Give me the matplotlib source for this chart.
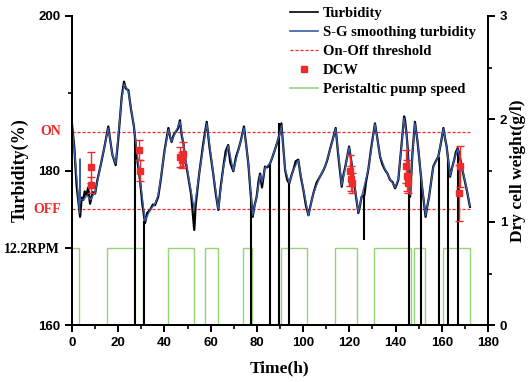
import matplotlib
matplotlib.use("Agg")
import matplotlib.pyplot as plt
from matplotlib.lines import Line2D
from matplotlib.ticker import MultipleLocator, FixedLocator
from matplotlib.transforms import blended_transform_factory


# =====================================================
# DATA
# =====================================================
turb_t = [0, 1, 2, 3.5, 4.2, 4.9, 5.5, 6.3, 7, 7.8, 9, 10, 11, 12.5, 14, 15.7,
          16.5, 17.5, 18.9, 20, 21.5, 22.5, 23.3, 24.4, 25.5, 26.8, 28, 29.4,
          30.5, 31.6, 32.5, 33.8, 35, 35.9, 37.3, 38.5, 40, 41.7, 42.5, 43.1,
          44, 44.9, 45.8, 46.7, 47.5, 48.2, 49, 50.3, 51.5, 52.9, 53.5, 55,
          56.8, 58.3, 59.5, 61.1, 62.2, 63.3, 64.3, 65.5, 66.5, 67.6, 68.5,
          69.8, 71, 72, 73, 74.4, 75.3, 76.3, 77.3, 78.2, 79, 79.9, 80.8, 81.4,
          82.2, 83.5, 84.5, 85.7, 86.8, 87.8, 88.8, 89.7, 90.6, 91.3, 92.2,
          93.1, 94, 95, 95.8, 96.8, 97.9, 99, 100.1, 101.2, 102.3, 103.3,
          104.4, 105.8, 107.3, 108.4, 109.5, 110.5, 111.6, 112.8, 114.1, 115.2,
          116.7, 117.5, 118.4, 119.9, 121, 122, 123.9, 124.5, 125.3, 126.5,
          127.2, 128.2, 129.5, 131.1, 132.2, 133.3, 134.3, 135.4, 136.5, 137.6,
          138.7, 139.8, 140.5, 141.2, 142.5, 143.7, 144.1, 144.8, 145.3, 146.3,
          147.3, 148.4, 149.6, 150.4, 151.3, 152.2, 153, 153.7, 154.5, 155.4,
          156.3, 157.4, 158.5, 159.6, 160.7, 161.4, 162.1, 162.9, 163.6, 164.5,
          165.4, 166.1, 166.9, 167.7, 168.6, 169.7, 170.8, 172.2]
turb_v = [186.0, 183.0, 178.0, 174.0, 176.5, 176.2, 177.3, 176.8, 177.8, 175.7,
          177.2, 177.0, 178.8, 180.8, 183.0, 185.7, 184.0, 182.0, 180.7, 184.0,
          189.5, 191.5, 190.6, 190.4, 188.0, 185.7, 182.0, 178.8, 175.5, 173.2,
          174.5, 174.9, 175.6, 175.5, 176.6, 179.0, 182.5, 185.5, 184.3, 183.7,
          184.6, 185.0, 185.4, 186.5, 184.5, 183.5, 181.5, 179.2, 177.0, 172.3,
          175.5, 179.5, 183.5, 186.3, 183.0, 179.6, 177.0, 174.9, 177.8, 180.5,
          182.5, 183.3, 181.0, 179.9, 181.8, 182.7, 183.8, 185.7, 183.5, 180.9,
          177.0, 174.0, 175.5, 176.6, 178.8, 179.6, 177.8, 180.5, 180.4, 180.9,
          181.8, 182.7, 183.6, 184.6, 186.1, 183.5, 180.1, 178.8, 178.3, 179.4,
          180.1, 181.2, 181.4, 179.2, 177.5, 175.5, 174.2, 175.6, 177.0, 178.4,
          179.2, 179.8, 180.5, 181.4, 182.7, 184.0, 185.5, 182.0, 177.9, 179.5,
          180.7, 183.1, 180.9, 178.5, 174.5, 175.3, 176.6, 176.8, 178.5, 180.1,
          183.0, 186.1, 184.0, 181.8, 180.8, 180.1, 179.6, 178.8, 178.5, 177.7,
          178.2, 178.8, 183.0, 187.0, 186.5, 184.6, 182.7, 176.6, 182.2, 186.3,
          183.5, 181.0, 178.3, 176.0, 174.0, 175.3, 176.6, 178.5, 180.5, 181.2,
          181.8, 183.5, 185.5, 184.2, 183.1, 181.0, 179.2, 180.4, 181.4, 182.4,
          182.9, 182.0, 180.5, 179.0, 177.5, 175.3]

sg_t = [0, 1.5, 3.3, 3.5, 3.6, 5, 6.5, 8, 10, 12.5, 15.7, 17.5, 18.9, 21.5, 22.6,
        24.4, 26.8, 29.4, 31.6, 33.8, 35.9, 37.3, 40, 41.7, 43.1, 44.9, 46.7,
        48.2, 50.3, 52.9, 55, 58.3, 61.1, 63.3, 65.5, 67.6, 69.8, 72, 74.4,
        76.3, 78.2, 79.9, 81.4, 82.2, 83.5, 85.7, 87.8, 89.7, 90.6, 92.2, 94,
        95.8, 97.9, 100.1, 102.3, 104.4, 107.3, 109.5, 111.6, 114.1, 116.7,
        118.4, 119.9, 121, 123.9, 125.3, 128.2, 131.1, 133.3, 135.4, 137.6,
        139.8, 141.2, 143.7, 144.8, 146.3, 147.3, 148.4, 149.6, 151.3, 153,
        154.5, 156.3, 158.5, 160.7, 162.1, 163.6, 165.4, 166.9, 168.6, 170.8,
        172.2]
sg_v = [186.0, 181.0, 174.5, 181.5, 176.2, 176.2, 176.8, 176.2, 177.2, 180.8,
        185.5, 182.0, 180.9, 189.3, 191.2, 190.2, 185.7, 179.0, 173.5, 174.9,
        175.7, 176.8, 182.3, 185.3, 183.8, 185.0, 186.3, 183.6, 179.3, 175.0,
        179.5, 186.1, 179.7, 175.0, 180.4, 183.2, 180.0, 182.6, 185.5, 181.0,
        174.2, 176.6, 179.4, 178.5, 180.3, 180.9, 182.7, 184.5, 185.8, 180.2,
        178.4, 180.1, 181.3, 177.6, 174.2, 177.0, 179.2, 180.5, 182.6, 185.4,
        178.1, 180.6, 183.0, 181.0, 174.6, 176.6, 180.1, 186.0, 181.9, 180.2,
        178.9, 177.8, 178.9, 186.8, 184.6, 176.8, 182.0, 186.1, 183.6, 178.4,
        174.2, 176.6, 180.4, 181.8, 185.4, 183.1, 179.3, 181.4, 182.8, 180.6,
        177.6, 175.4]

# sensor drop-outs in the raw turbidity signal
glitch_t = [27.3, 31.3, 77.4, 85.7, 89.6, 93.9, 126.5, 146.0, 150.8, 158.9, 162.8, 167.2]
glitch_hi = [184.5, 173.5, 177.2, 180.9, 186.1, 178.3, 176.8, 179.0, 179.5, 181.7, 181.5, 182.5]
glitch_lo = [160, 160, 160, 160, 160, 160, 171.0, 160, 160, 160, 160, 160]

# dry cell weight (right axis)
dcw_t = [8.2, 8.2, 29.1, 29.4, 46.8, 47.5, 48.0, 120.3, 120.7, 121.0,
         144.6, 145.0, 145.3, 167.9, 167.6]
dcw_v = [1.53, 1.36, 1.70, 1.50, 1.63, 1.60, 1.66, 1.50, 1.42, 1.38,
         1.54, 1.45, 1.38, 1.54, 1.28]
dcw_err = [0.15, 0.08, 0.10, 0.10, 0.10, 0.08, 0.12, 0.15, 0.12, 0.10,
           0.16, 0.15, 0.10, 0.20, 0.27]

# peristaltic pump: switch times, on = 12.2 RPM
pump_t = [0, 3.2, 15.3, 30.9, 41.4, 52.8, 57.7, 63.2, 74.1, 77.7, 90.4, 101.5,
          113.8, 123.5, 130.8, 146.5, 148.1, 152.6, 160.4, 172.4]
pump_on = [1, 0, 1, 0, 1, 0, 1, 0, 1, 0, 1, 0, 1, 0, 1, 0, 1, 0, 1, 0]

ON_LEVEL = 185
OFF_LEVEL = 175

# =====================================================
# STYLE
# =====================================================
SERIF = ["Liberation Serif", "DejaVu Serif"]
SANS = ["Liberation Sans", "DejaVu Sans"]
RED = "#ee2b2b"
BLUE = "#3b5ca8"
GREEN = "#96d47a"

plt.rcParams["font.family"] = SANS
plt.rcParams["font.weight"] = "bold"
plt.rcParams["axes.linewidth"] = 1.4

fig = plt.figure(figsize=(5.28, 3.82), dpi=100)
ax = fig.add_axes([72 / 528, 57 / 382, 416 / 528, 309 / 382])
ax2 = ax.twinx()

# =====================================================
# TURBIDITY
# =====================================================
ax.vlines(glitch_t, glitch_lo, glitch_hi, color="black", lw=1.5, zorder=3)
ax.plot(turb_t, turb_v, color="black", lw=1.6, zorder=3)
ax.plot(sg_t, sg_v, color=BLUE, lw=1.0, zorder=4)

ax.hlines([ON_LEVEL, OFF_LEVEL], 0, 172, colors=RED, linestyles=(0, (2.5, 1.5)),
          lw=0.9, zorder=2)

# pump speed, drawn on turbidity scale (12.2 RPM -> 170)
pump_level = [160 + 10 * p for p in pump_on]
ax.step(pump_t, pump_level, where="post", color=GREEN, lw=1.0, zorder=1)

# =====================================================
# DCW
# =====================================================
ax2.errorbar(dcw_t, dcw_v, yerr=dcw_err, fmt="s", color=RED, ms=5,
             elinewidth=1.0, capsize=3, capthick=1.0, zorder=5)

# =====================================================
# AXES
# =====================================================
ax.set_xlim(0, 180)
ax.set_ylim(160, 200)
ax2.set_ylim(0, 3)
ax.spines["top"].set_visible(False)
ax2.spines["top"].set_visible(False)

ax.xaxis.set_major_locator(MultipleLocator(20))
ax.xaxis.set_minor_locator(MultipleLocator(10))
ax.yaxis.set_major_locator(FixedLocator([160, 170, 180, 200]))
ax.yaxis.set_minor_locator(FixedLocator([190]))
ax.set_yticklabels(["160", "12.2RPM", "180", "200"])
ax2.yaxis.set_major_locator(MultipleLocator(1))
ax2.yaxis.set_minor_locator(MultipleLocator(0.5))

for a in (ax, ax2):
    a.tick_params(which="major", direction="out", length=5, width=1.4,
                  labelsize=9.5)
    a.tick_params(which="minor", direction="out", length=3, width=1.2)

for lab in ax.get_yticklabels():
    if lab.get_text() == "12.2RPM":
        lab.set_fontfamily(SERIF)
        lab.set_fontsize(10)

trans = blended_transform_factory(ax.transAxes, ax.transData)
ax.text(-0.025, ON_LEVEL, "ON", color=RED, transform=trans, ha="right",
        va="center", fontsize=10, family=SERIF, fontweight="bold")
ax.text(-0.025, OFF_LEVEL, "OFF", color=RED, transform=trans, ha="right",
        va="center", fontsize=10, family=SERIF, fontweight="bold")

ax.set_xlabel("Time(h)", fontsize=12.5, family=SERIF, fontweight="bold")
ax.xaxis.set_label_coords(0.5, -0.115)
ax.set_ylabel("Turbidity(%)", fontsize=13, family=SERIF, fontweight="bold")
ax.yaxis.set_label_coords(-0.105, 0.5)
ax2.set_ylabel("Dry cell weight(g/l)", fontsize=12.5, family=SERIF,
               fontweight="bold")
ax2.yaxis.set_label_coords(1.052, 0.5)

# =====================================================
# LEGEND
# =====================================================
handles = [
    Line2D([], [], color="black", lw=1.2),
    Line2D([], [], color=BLUE, lw=1.2),
    Line2D([], [], color=RED, lw=0.9, ls=(0, (2.5, 1.5))),
    Line2D([], [], color=RED, marker="s", ls="none", ms=5),
    Line2D([], [], color=GREEN, lw=1.2),
]
labels = ["Turbidity", "S-G smoothing turbidity", "On-Off threshold", "DCW",
          "Peristaltic pump speed"]
fig.legend(handles, labels, loc="upper left",
           bbox_to_anchor=(290 / 528, 1 - 7 / 382),
           frameon=False, handlelength=1.9, handletextpad=0.35,
           labelspacing=0.4, borderpad=0, borderaxespad=0,
           prop={"family": SERIF, "weight": "bold", "size": 10.5})

fig.savefig("out.png", dpi=100)
